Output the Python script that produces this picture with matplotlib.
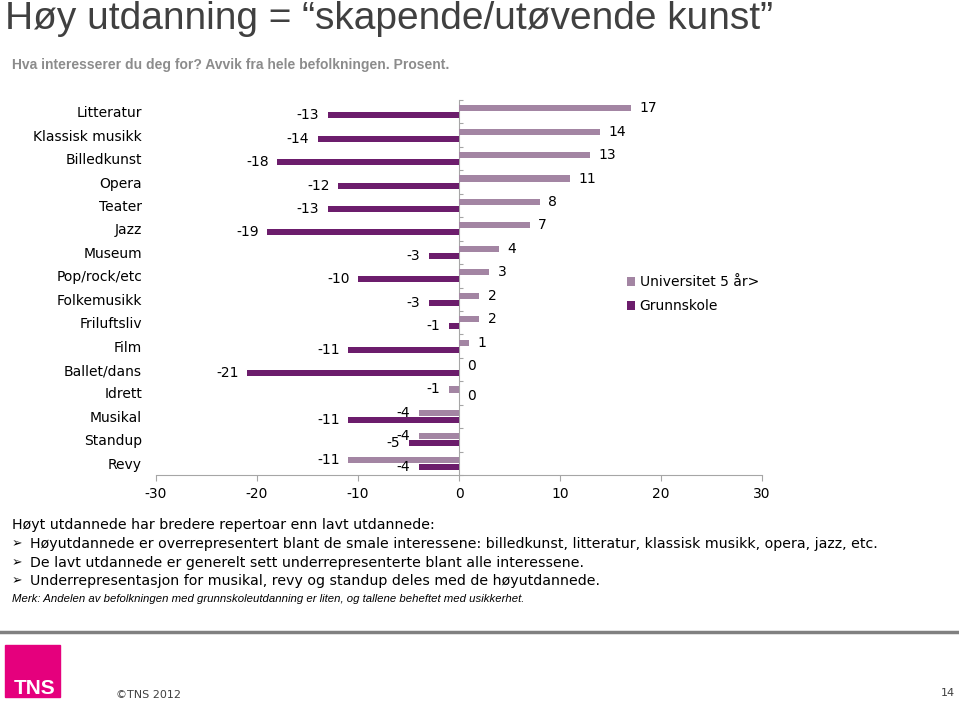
import numpy as np
import matplotlib
matplotlib.use("Agg")
import matplotlib.pyplot as plt
from matplotlib.patches import Rectangle

plt.rcParams["axes.unicode_minus"] = False

categories = ["Litteratur", "Klassisk musikk", "Billedkunst", "Opera", "Teater", "Jazz",
              "Museum", "Pop/rock/etc", "Folkemusikk", "Friluftsliv", "Film",
              "Ballet/dans", "Idrett", "Musikal", "Standup", "Revy"]
universitet = [17, 14, 13, 11, 8, 7, 4, 3, 2, 2, 1, 0, -1, -4, -4, -11]
grunnskole = [-13, -14, -18, -12, -13, -19, -3, -10, -3, -1, -11, -21, 0, -11, -5, -4]
xticks = [-30, -20, -10, 0, 10, 20, 30]

light = "#A385A3"
dark = "#6C1D6C"
grey = "#A6A6A6"

W, H = 959, 702
fig = plt.figure(figsize=(W / 100, H / 100), dpi=100)

def fx(px):
    return px / W

def fy(py):
    return 1 - py / H

# title + subtitle
fig.text(fx(5), fy(29), "Høy utdanning = \u201cskapende/utøvende kunst\u201d",
         family="Liberation Sans", fontsize=28, color="#404040", va="baseline")
fig.text(fx(12), fy(65), "Hva interesserer du deg for? Avvik fra hele befolkningen. Prosent.",
         family="Liberation Sans", fontsize=10, weight="bold", color="#8C8C8C", va="center")

# chart
ax = fig.add_axes([fx(156), fy(475), fx(606), 375 / H])
y = np.arange(len(categories))
off = 0.15
bh = 0.26
b1 = ax.barh(y - off, universitet, height=bh, color=light, label="Universitet 5 år>")
b2 = ax.barh(y + off, grunnskole, height=bh, color=dark, label="Grunnskole")
ax.bar_label(b1, fmt="%g", padding=6, fontsize=10)
ax.bar_label(b2, fmt="%g", padding=6, fontsize=10)

ax.set_xlim(-30, 30)
ax.set_ylim(len(categories) - 0.5, -0.5)
ax.set_xticks(xticks)
ax.set_yticks(y)
ax.set_yticklabels(categories, fontsize=10)
ax.tick_params(axis="y", length=0, pad=10)
ax.tick_params(axis="x", length=4, color=grey, pad=5, labelsize=10)
for s in ["top", "right", "left"]:
    ax.spines[s].set_visible(False)
ax.spines["bottom"].set_color(grey)

# vertical axis at x = 0 with ticks between categories
sec = ax.secondary_yaxis(0.5)
sec.set_yticks(np.arange(-0.5, len(categories) + 0.5, 1))
sec.set_yticklabels([])
sec.tick_params(length=3, color=grey)
for sp in sec.spines.values():
    sp.set_color(grey)

fig.legend(handles=[b1, b2], loc="upper left", bbox_to_anchor=(fx(627), fy(275)),
           frameon=False, fontsize=10, handlelength=0.6, handleheight=0.6,
           handletextpad=0.3, labelspacing=0.75, borderpad=0, borderaxespad=0)

# text below chart
fig.text(fx(12), fy(525), "Høyt utdannede har bredere repertoar enn lavt utdannede:",
         fontsize=10.2, va="center")
bullets = ["Høyutdannede er overrepresentert blant de smale interessene: billedkunst, litteratur, klassisk musikk, opera, jazz, etc.",
           "De lavt utdannede er generelt sett underrepresenterte blant alle interessene.",
           "Underrepresentasjon for musikal, revy og standup deles med de høyutdannede."]
for i, t in enumerate(bullets):
    yy = 544 + i * 18.5
    fig.text(fx(12), fy(yy), "\u27a2", fontsize=9, va="center")
    fig.text(fx(30), fy(yy), t, fontsize=10.2, va="center")
fig.text(fx(12), fy(599), "Merk: Andelen av befolkningen med grunnskoleutdanning er liten, og tallene beheftet med usikkerhet.",
         family="Liberation Sans", style="italic", fontsize=8.2, va="center")

# footer
fig.add_artist(plt.Line2D([0, 1], [fy(632), fy(632)], color="#808080", lw=2.5))
fig.add_artist(Rectangle((fx(5), fy(697)), fx(55), 52 / H, color="#E5007D"))
fig.text(fx(56), fy(688), "TNS", family="Liberation Sans", weight="bold",
         color="white", fontsize=15, va="center", ha="right")
fig.text(fx(116), fy(695), "\u00a9TNS 2012", fontsize=8, color="#404040", va="center")
fig.text(fx(955), fy(693), "14", fontsize=8, color="#404040", va="center", ha="right")

fig.savefig("out.png", dpi=100)
